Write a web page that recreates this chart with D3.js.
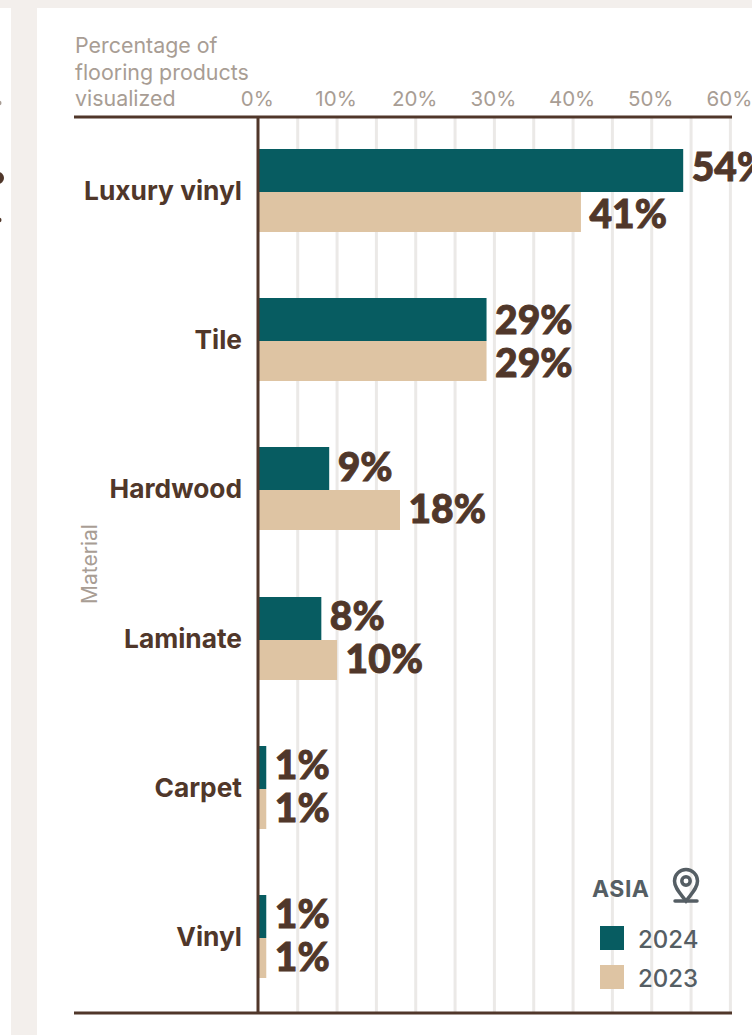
<!DOCTYPE html>
<meta charset="utf-8">
<style>
  body { margin: 0; background: #fff; }
  svg { display: block; }
  text { font-family: Inter, sans-serif; }
</style>
<body>
<div id="chart"></div>
<script src="https://d3js.org/d3.v7.min.js"></script>
<script>
// values
var materials = ["Luxury vinyl", "Tile", "Hardwood", "Laminate", "Carpet", "Vinyl"];
var values2024 = [54, 29, 9, 8, 1, 1];
var values2023 = [41, 29, 18, 10, 1, 1];
var gridTicks = [5, 10, 15, 20, 25, 30, 35, 40, 45, 50, 55, 60];
var labelTicks = [0, 10, 20, 30, 40, 50, 60];
var axisTitle = ["Percentage of", "flooring products", "visualized"];
var legendYears = ["2024", "2023"];

var brown = "#50372a", teal = "#075c61", tan = "#dec4a3", grey = "#a89d94", slate = "#555e64";

var width = 752, height = 1035;

var svg = d3.select("#chart").append("svg")
    .attr("width", width)
    .attr("height", height);

// panel background
svg.append("rect").attr("width", width).attr("height", height).attr("fill", "#f3efec");
svg.append("rect").attr("x", 0).attr("y", 8).attr("width", 11).attr("height", height).attr("fill", "#fff");
svg.append("rect").attr("x", 37).attr("y", 8).attr("width", width).attr("height", height).attr("fill", "#fff");

// bits of the neighbouring panel that stick in from the left edge
svg.append("circle").attr("cx", -2).attr("cy", 178).attr("r", 6).attr("fill", brown);
svg.append("circle").attr("cx", -1).attr("cy", 220).attr("r", 2.5).attr("fill", brown);
svg.append("circle").attr("cx", -1).attr("cy", 103).attr("r", 2.5).attr("fill", grey);

// scales
var x = d3.scaleLinear().domain([0, 60]).range([258.4, 730.4]);
var y = d3.scaleBand().domain(materials).range([149, 1044.2]);
var tealH = 43, tanH = 40;

// band positions land on whole pixels, otherwise a seam shows between the two bars
function rowTop(name) { return Math.round(y(name)); }

// gridlines
svg.selectAll(".grid")
    .data(gridTicks)
  .enter().append("line")
    .attr("class", "grid")
    .attr("x1", function(d) { return x(d); })
    .attr("x2", function(d) { return x(d); })
    .attr("y1", 117)
    .attr("y2", 1013)
    .style("stroke", "#ebe9e7")
    .style("stroke-width", "3px");

// tick labels
svg.selectAll(".tick-label")
    .data(labelTicks)
  .enter().append("text")
    .attr("class", "tick-label")
    .attr("x", function(d) { return x(d) - 1; })
    .attr("y", 106)
    .attr("text-anchor", "middle")
    .attr("font-size", "20.5px")
    .attr("fill", grey)
    .text(function(d) { return d + "%"; });

// axis title
svg.selectAll(".axis-title")
    .data(axisTitle)
  .enter().append("text")
    .attr("class", "axis-title")
    .attr("x", 75)
    .attr("y", function(d, i) { return 53 + i * 26.5; })
    .attr("font-size", "21.4px")
    .attr("fill", grey)
    .text(function(d) { return d; });

svg.append("text")
    .attr("transform", "translate(97,564) rotate(-90)")
    .attr("text-anchor", "middle")
    .attr("font-size", "21px")
    .attr("fill", grey)
    .text("Material");

// bars
svg.selectAll(".bar-2024")
    .data(values2024)
  .enter().append("rect")
    .attr("class", "bar-2024")
    .attr("x", x(0))
    .attr("y", function(d, i) { return rowTop(materials[i]); })
    .attr("width", function(d) { return x(d) - x(0); })
    .attr("height", tealH)
    .attr("fill", teal);

svg.selectAll(".bar-2023")
    .data(values2023)
  .enter().append("rect")
    .attr("class", "bar-2023")
    .attr("x", x(0))
    .attr("y", function(d, i) { return rowTop(materials[i]) + tealH; })
    .attr("width", function(d) { return x(d) - x(0); })
    .attr("height", tanH)
    .attr("fill", tan);

// rules
svg.append("line").attr("x1", 74).attr("x2", 732).attr("y1", 117).attr("y2", 117)
    .style("stroke", brown).style("stroke-width", "3px");
svg.append("line").attr("x1", 74).attr("x2", 732).attr("y1", 1013).attr("y2", 1013)
    .style("stroke", brown).style("stroke-width", "3px");
svg.append("line").attr("x1", 258).attr("x2", 258).attr("y1", 117).attr("y2", 1013)
    .style("stroke", brown).style("stroke-width", "3px");

// category labels
svg.selectAll(".cat")
    .data(materials)
  .enter().append("text")
    .attr("class", "cat")
    .attr("x", 242)
    .attr("y", function(d) { return rowTop(d) + 51; })
    .attr("text-anchor", "end")
    .attr("font-size", "26.3px")
    .attr("font-weight", 700)
    .attr("fill", brown)
    .text(function(d) { return d; });

// value labels, the baselines in the original shift a little from row to row
var baseline2024 = [32, 36, 34, 33, 33, 33];
var baseline2023 = [79, 79, 76, 76, 76, 76];

svg.selectAll(".val-2024")
    .data(values2024)
  .enter().append("text")
    .attr("class", "val-2024")
    .attr("x", function(d) { return x(d) + 8.5; })
    .attr("y", function(d, i) { return rowTop(materials[i]) + baseline2024[i]; })
    .style("font-family", "Lato, sans-serif")
    .attr("font-size", "39px")
    .attr("font-weight", 900)
    .attr("fill", brown)
    .attr("stroke", brown)
    .attr("stroke-width", 0.9)
    .text(function(d) { return d + "%"; });

svg.selectAll(".val-2023")
    .data(values2023)
  .enter().append("text")
    .attr("class", "val-2023")
    .attr("x", function(d) { return x(d) + 8.5; })
    .attr("y", function(d, i) { return rowTop(materials[i]) + baseline2023[i]; })
    .style("font-family", "Lato, sans-serif")
    .attr("font-size", "39px")
    .attr("font-weight", 900)
    .attr("fill", brown)
    .attr("stroke", brown)
    .attr("stroke-width", 0.9)
    .text(function(d) { return d + "%"; });

// legend
svg.append("text")
    .attr("x", 592).attr("y", 897)
    .attr("font-size", "23px").attr("font-weight", 700)
    .attr("letter-spacing", "0.5px")
    .attr("fill", slate)
    .text("ASIA");

var pin = svg.append("g").attr("transform", "translate(686,884)")
    .attr("fill", "none").attr("stroke", slate).attr("stroke-width", 3.5);
pin.append("path").attr("d", "M0 17 C-6 9 -11.5 4 -11.5 -3 A11.5 11.5 0 0 1 11.5 -3 C11.5 4 6 9 0 17 Z");
pin.append("circle").attr("cy", -3).attr("r", 4.2);
pin.append("line").attr("x1", -11).attr("x2", 11).attr("y1", 17).attr("y2", 17).attr("stroke-linecap", "round");

svg.selectAll(".legend-box")
    .data(legendYears)
  .enter().append("rect")
    .attr("class", "legend-box")
    .attr("x", 600)
    .attr("y", function(d, i) { return 926 + i * 39; })
    .attr("width", 24)
    .attr("height", 24)
    .attr("fill", function(d, i) { return i === 0 ? teal : tan; });

svg.selectAll(".legend-label")
    .data(legendYears)
  .enter().append("text")
    .attr("class", "legend-label")
    .attr("x", 638)
    .attr("y", function(d, i) { return 948 + i * 39; })
    .attr("font-size", "24px")
    .attr("font-weight", 500)
    .attr("fill", slate)
    .text(function(d) { return d; });
</script>
</body>
